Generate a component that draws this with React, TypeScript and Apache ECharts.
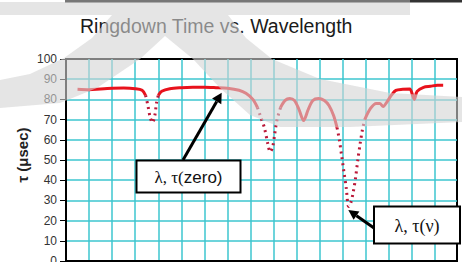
import React, { useEffect, useRef } from 'react';
import * as echarts from 'echarts';

const chartTitle = 'Ringdown Time vs. Wavelength';
const yAxisTitle = 'τ (μsec)';
const yMin = 0;
const yMax = 100;
const yStep = 10;
const xMin = 0;
const xMax = 16.95;
const xStep = 1;

// trace segments [wavelength (grid units), tau (usec)]
const flat1 = [[0.5, 85], [1.0, 84.8], [1.5, 85.2], [2.0, 85.5], [2.5, 85.6], [3.0, 85.3], [3.3, 84.5], [3.45, 82]];
const dip1 = [[3.45, 82], [3.55, 77], [3.65, 71], [3.75, 68.5], [3.85, 72], [3.92, 78], [4.0, 82]];
const flat2 = [[4.0, 82], [4.15, 84], [4.5, 85.3], [5, 85.8], [5.5, 86], [6, 86], [6.5, 85.8], [7.0, 85.5], [7.5, 84.5], [7.8, 83], [8.1, 80], [8.3, 76]];
const dip2 = [[8.3, 76], [8.45, 71], [8.6, 66], [8.75, 58], [8.85, 54], [8.95, 56], [9.05, 63], [9.15, 70], [9.3, 76]];
const flat3 = [[9.3, 76], [9.5, 79.5], [9.7, 80.5], [9.9, 79.5], [10.1, 75], [10.3, 69.5], [10.5, 75], [10.7, 79.5], [10.95, 80.5], [11.2, 79.5], [11.4, 77], [11.6, 72], [11.75, 66]];
const dip3 = [[11.75, 66], [11.85, 60], [11.95, 52], [12.05, 44], [12.15, 36], [12.25, 27], [12.35, 29], [12.45, 34], [12.55, 41], [12.65, 50], [12.75, 58], [12.85, 65], [12.95, 70]];
const flat4 = [[12.95, 70], [13.2, 75.5], [13.45, 78], [13.6, 78], [13.75, 76.5], [13.9, 78.5], [14.1, 82], [14.3, 84.5], [14.6, 85], [14.9, 85.2], [15.04, 81.5], [15.1, 80], [15.22, 84], [15.5, 86], [15.8, 86.5], [16.1, 87], [16.35, 87]];

const segments = [
  { data: flat1, dotted: false },
  { data: dip1, dotted: true },
  { data: flat2, dotted: false },
  { data: dip2, dotted: true },
  { data: flat3, dotted: false },
  { data: dip3, dotted: true },
  { data: flat4, dotted: false },
];

const label1 = ['λ, τ(', 'zero)'];
const label2 = 'λ, τ(ν)';

const SANS = 'Liberation Sans, Arial, sans-serif';
const SERIF = 'Liberation Serif, Times New Roman, serif';
const GRID_C = '#3cc6cf';
const SHADE = 'rgba(212,212,212,0.6)';

const wmShape = [
  [112, 15], [228, 15], [246, 38], [272, 59], [320, 79], [390, 93], [462, 97],
  [462, 122], [350, 127], [280, 127], [250, 115], [220, 88], [193, 59], [165, 36],
  [140, 59], [97, 88], [60, 103], [0, 108], [0, 80], [30, 74], [64, 58], [92, 38],
];

export default function App() {
  const ref = useRef<HTMLDivElement>(null);
  useEffect(() => {
    const chart = echarts.init(ref.current!, null, { renderer: 'svg' });
    const series = segments.map((s) => ({
      type: 'line',
      data: s.data,
      showSymbol: false,
      smooth: 0.3,
      silent: true,
      z: 3,
      lineStyle: s.dotted
        ? { color: '#bb1838', width: 3, type: [2, 4] }
        : { color: '#e8121c', width: 3 },
    }));
    chart.setOption({
      animation: false,
      backgroundColor: '#fff',
      title: {
        text: chartTitle,
        left: 80,
        top: 16,
        padding: 0,
        textStyle: { fontFamily: SANS, fontSize: 19.5, fontWeight: 'normal', color: '#1a1a1a' },
      },
      grid: {
        left: 66, right: 5, top: 59, bottom: 1, show: true, borderColor: '#000', borderWidth: 2,
        backgroundColor: 'transparent', containLabel: false, outerBoundsMode: 'none',
      },
      xAxis: {
        type: 'value', min: xMin, max: xMax, interval: xStep,
        axisLabel: { show: false }, axisTick: { show: false },
        axisLine: { show: true, lineStyle: { color: '#000', width: 2 } },
        splitLine: { show: true, showMinLine: false, showMaxLine: false, lineStyle: { color: GRID_C, width: 1.5 } },
      },
      yAxis: {
        type: 'value', min: yMin, max: yMax, interval: yStep,
        axisLabel: { color: '#333', fontSize: 12, fontFamily: SANS, margin: 9 },
        axisTick: { show: true, length: 6, lineStyle: { color: '#000', width: 1 } },
        axisLine: { show: true, lineStyle: { color: '#000', width: 2 } },
        splitLine: { show: true, showMinLine: false, showMaxLine: false, lineStyle: { color: GRID_C, width: 1.5 } },
      },
      series,
      graphic: [
        {
          type: 'text', x: 22, y: 155, rotation: Math.PI / 2, z: 50,
          style: { text: yAxisTitle, font: `bold 15px ${SANS}`, fill: '#222', align: 'center', verticalAlign: 'middle' },
        },
        // arrow 1
        { type: 'line', z: 50, shape: { x1: 183, y1: 160, x2: 216.7, y2: 101.4 }, style: { stroke: '#000', lineWidth: 3 } },
        { type: 'polygon', z: 50, shape: { points: [[221.7, 92.7], [221.3, 104.2], [212.1, 98.6]] }, style: { fill: '#000' } },
        // box 1
        { type: 'rect', z: 51, shape: { x: 136.5, y: 160.5, width: 104, height: 32 }, style: { fill: '#fff', stroke: '#000', lineWidth: 2 } },
        {
          type: 'text', z: 52, x: 188.5, y: 177,
          style: {
            text: `{a|${label1[0]}}{b|${label1[1]}}`, align: 'center', verticalAlign: 'middle', fill: '#111',
            rich: { a: { fontFamily: SERIF, fontSize: 17, fill: '#111' }, b: { fontFamily: SANS, fontSize: 17, fill: '#111' } },
          },
        },
        // arrow 2
        { type: 'line', z: 50, shape: { x1: 374, y1: 228, x2: 356.5, y2: 215.7 }, style: { stroke: '#000', lineWidth: 3 } },
        { type: 'polygon', z: 50, shape: { points: [[348.3, 210], [359.4, 211.6], [353.6, 219.8]] }, style: { fill: '#000' } },
        // box 2
        { type: 'rect', z: 51, shape: { x: 374, y: 206.5, width: 86, height: 37 }, style: { fill: '#fff', stroke: '#000', lineWidth: 2 } },
        {
          type: 'text', z: 52, x: 417, y: 226,
          style: { text: label2, font: `18px ${SERIF}`, fill: '#111', align: 'center', verticalAlign: 'middle' },
        },
        // watermark overlay
        { type: 'rect', z: 100, silent: true, shape: { x: 0, y: 2, width: 410, height: 13 }, style: { fill: SHADE } },
        { type: 'polygon', z: 100, silent: true, shape: { points: wmShape }, style: { fill: SHADE } },
        { type: 'rect', z: 101, silent: true, shape: { x: 65, y: 0, width: 345, height: 2.5 }, style: { fill: '#777' } },
        { type: 'rect', z: 101, silent: true, shape: { x: 410, y: 0, width: 52, height: 2.5 }, style: { fill: '#333' } },
      ],
    });
    return () => chart.dispose();
  }, []);
  return <div ref={ref} style={{ position: 'absolute', left: 0, top: 0, width: 462, height: 262 }} />;
}
